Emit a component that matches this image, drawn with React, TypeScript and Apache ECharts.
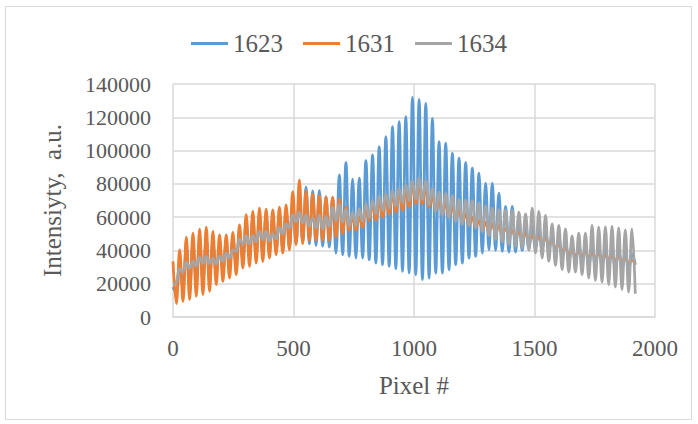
import React, { useEffect, useRef } from "react";
import * as echarts from "echarts";

// Sampling grid: extrema of the fringe pattern every ~13.8 detector pixels
const SAMPLE_STEP = 13.8;

const SERIES_NAMES = ["1623", "1631", "1634"];
const X_TICKS = [0, 500, 1000, 1500, 2000];
const Y_TICKS = [0, 20000, 40000, 60000, 80000, 100000, 120000, 140000];

// Series 1623 (blue)
const S1623 = [
  18000, 14000, 34000, 17000, 42000, 18000, 44000, 20000, 46000, 21000,
  47000, 23000, 45000, 26000, 44000, 27000, 45000, 29000, 47000, 31000,
  52000, 34000, 57000, 35000, 59000, 37000, 61000, 38000, 61000, 39000,
  60000, 40000, 62000, 41000, 64000, 42000, 70000, 44000, 76000, 45000,
  78000, 44000, 75800, 43000, 76000, 42500, 72400, 42000, 71400, 38400,
  85400, 37400, 92800, 36400, 82800, 35400, 83400, 35400, 94000, 34400,
  97400, 32400, 102400, 31400, 108400, 30400, 114400, 29000, 117400, 27400,
  120400, 26400, 132000, 25400, 130800, 22400, 128400, 23400, 119400, 26400,
  105400, 26400, 104400, 28400, 98400, 31400, 95400, 32400, 92800, 35400,
  89400, 36400, 86400, 38400, 80400, 40400, 80400, 40000, 74400, 39500,
  66400, 39000, 66400, 39000, 60400, 40000, 56000, 41000, 54000, 41000,
  53000, 40000, 52000, 39000, 50000, 37000, 48000, 35000, 46000, 33000,
  44000, 32000, 44000, 31000, 43000, 30000, 43000, 30000, 42000, 30000,
  42000, 29000, 41000, 29000, 40000, 28000, 39000, 28000, 38000, 31400,
];

// Series 1631 (orange)
const S1631 = [
  33400, 8000, 40400, 9400, 48000, 10400, 50400, 12400, 52800, 13400,
  54000, 15400, 51400, 19400, 49400, 21400, 49400, 23400, 50800, 25400,
  55400, 29400, 61500, 30400, 63400, 32400, 65400, 33400, 64800, 35400,
  64400, 37400, 66000, 38400, 67400, 40400, 75400, 43400, 82400, 44000,
  76000, 46000, 74000, 46000, 73000, 46000, 72000, 46000, 72000, 48000,
  71000, 50000, 66000, 52000, 60000, 52000, 60000, 54000, 66000, 58000,
  68000, 58000, 70000, 60000, 72000, 62000, 74000, 63000, 76000, 64000,
  77000, 66000, 80000, 68000, 81000, 68000, 78000, 66000, 72000, 64000,
  70000, 62000, 68000, 60000, 66000, 59000, 64000, 57000, 62000, 55000,
  60000, 54000, 58000, 52000, 57000, 51000, 56000, 50000, 55000, 50000,
  53000, 49000, 52000, 48000, 51000, 47000, 50000, 46000, 49000, 45000,
  48000, 45000, 47000, 44000, 45000, 42000, 43000, 40000, 41000, 38000,
  40000, 37000, 39000, 37000, 39000, 36000, 38000, 36000, 38000, 35000,
  37000, 35000, 37000, 34000, 36000, 34000, 35000, 33000, 34000, 32000,
];

// Series 1634 (gray)
const S1634 = [
  19500, 21000, 29000, 27000, 33000, 29500, 33500, 30500, 36000, 32200,
  36400, 32000, 35400, 31900, 36400, 33400, 38400, 35400, 40400, 39500,
  47000, 43700, 48900, 43900, 48900, 45200, 51500, 46500, 51500, 45700,
  49900, 46900, 53900, 49900, 55900, 53500, 61500, 57200, 62900, 56400,
  61400, 54400, 59400, 53500, 61000, 53000, 60400, 54500, 66000, 57700,
  67500, 57000, 64500, 54700, 62900, 54900, 64900, 57500, 68000, 59800,
  70000, 62000, 72800, 63900, 74200, 65400, 75800, 66700, 77400, 68400,
  79400, 69900, 82000, 71000, 83400, 70700, 82000, 67300, 77400, 63300,
  75000, 61200, 74200, 59800, 73000, 57600, 70600, 55800, 70200, 55000,
  70000, 53600, 68400, 51200, 66800, 48800, 65400, 46500, 64500, 45000,
  64400, 43500, 64000, 42500, 63000, 41500, 62000, 40000, 65400, 38400,
  63500, 35400, 61000, 33400, 56000, 31000, 55000, 28500, 53000, 27000,
  48800, 27000, 50400, 25500, 50400, 23500, 55000, 22000, 54000, 21000,
  54200, 19500, 54600, 18000, 53500, 16500, 52400, 15000, 53000, 14000,
];

const SERIES_VALUES = [S1623, S1631, S1634];
const SERIES_COLORS = ["#5B9BD5", "#ED7D31", "#A5A5A5"];

const FONT = "'Liberation Serif', 'Times New Roman', serif";
const TEXT_COLOR = "#595959";
const GRID_COLOR = "#D9D9D9";

export default function App() {
  const ref = useRef<HTMLDivElement>(null);

  useEffect(() => {
    if (!ref.current) return;
    const chart = echarts.init(ref.current, null, { renderer: "svg" });
    const series = SERIES_NAMES.map((name, k) => ({
      name,
      type: "line",
      data: SERIES_VALUES[k].map((v, i) => [i * SAMPLE_STEP, v]),
      showSymbol: false,
      symbol: "none",
      smooth: 0.4,
      lineStyle: { color: SERIES_COLORS[k], width: 2.75 },
      itemStyle: { color: SERIES_COLORS[k] },
      z: 2 + k,
    }));
    chart.setOption({
      animation: false,
      backgroundColor: "#ffffff",
      textStyle: { fontFamily: FONT },
      graphic: [
        {
          type: "rect",
          shape: { x: 5.5, y: 6.5, width: 686, height: 413 },
          style: { fill: "none", stroke: GRID_COLOR, lineWidth: 1 },
          silent: true,
        },
      ],
      legend: {
        top: 26,
        left: "center",
        icon: "rect",
        itemWidth: 37,
        itemHeight: 3,
        itemGap: 20,
        textStyle: { fontFamily: FONT, fontSize: 25, color: TEXT_COLOR, padding: [0, 0, 0, 0] },
        data: SERIES_NAMES,
      },
      grid: { left: 173, right: 43, top: 84, bottom: 107, containLabel: false },
      xAxis: {
        type: "value",
        min: X_TICKS[0],
        max: X_TICKS[X_TICKS.length - 1],
        interval: X_TICKS[1] - X_TICKS[0],
        name: "Pixel #",
        nameLocation: "middle",
        nameGap: 56,
        nameTextStyle: { fontFamily: FONT, fontSize: 25, color: TEXT_COLOR },
        axisLine: { show: true, lineStyle: { color: GRID_COLOR, width: 1.5 } },
        axisTick: { show: false },
        axisLabel: { fontFamily: FONT, fontSize: 23, color: TEXT_COLOR, margin: 20, formatter: (v: number) => String(v) },
        splitLine: { show: true, lineStyle: { color: GRID_COLOR, width: 1.5 } },
      },
      yAxis: {
        type: "value",
        min: Y_TICKS[0],
        max: Y_TICKS[Y_TICKS.length - 1],
        interval: Y_TICKS[1] - Y_TICKS[0],
        name: "Intensiyty,  a.u.",
        nameLocation: "middle",
        nameGap: 108,
        nameTextStyle: { fontFamily: FONT, fontSize: 25, color: TEXT_COLOR },
        axisLine: { show: false },
        axisTick: { show: false },
        axisLabel: { fontFamily: FONT, fontSize: 22, color: TEXT_COLOR, margin: 22, formatter: (v: number) => String(v) },
        splitLine: { show: true, lineStyle: { color: GRID_COLOR, width: 1.5 } },
      },
      series,
    });
    return () => chart.dispose();
  }, []);

  return <div ref={ref} style={{ width: 698, height: 424, position: "absolute", left: 0, top: 0 }} />;
}
